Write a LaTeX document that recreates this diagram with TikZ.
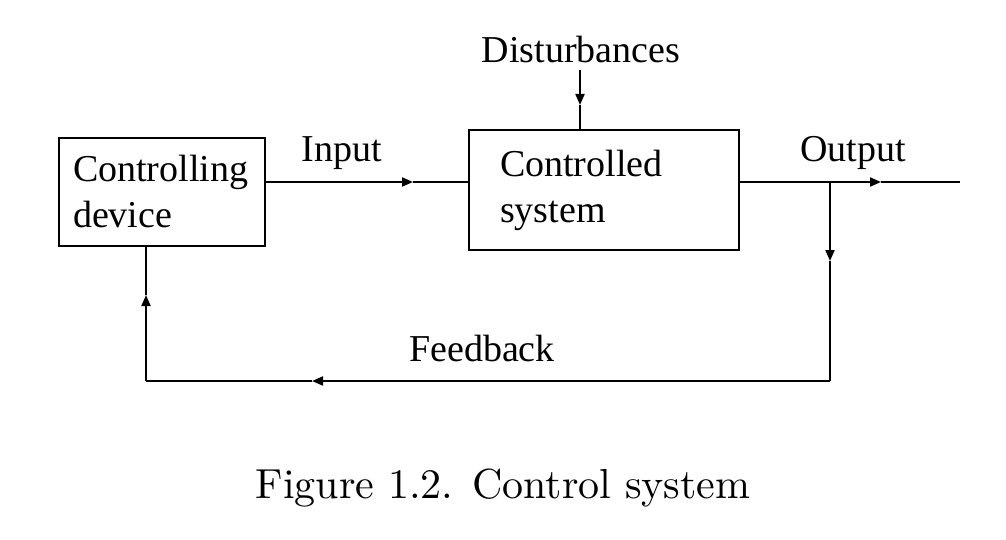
\documentclass[tikz,border=0pt]{standalone}
\usepackage{fontspec}
\setmainfont{Liberation Serif}
\newfontfamily\capfont[Extension=.otf]{lmroman10-regular}
\usetikzlibrary{arrows.meta}

\begin{document}
\begin{tikzpicture}[x=0.5pt, y=-0.5pt, line width=1pt,
    every node/.style = {font=\fontsize{19}{23}\selectfont},
    blk/.style = {shape=rectangle, draw, align=left, anchor=north west},
    lbl/.style = {anchor=base, inner sep=0pt},
    tip/.style = {-{Triangle[length=5.5pt,width=4.5pt]}}]
    \useasboundingbox (0,0) rectangle (1006,540);
    \node[blk, minimum width=103pt, minimum height=54pt,
      text width=89pt, inner sep=7pt] (cdev) at (58,137)
      {Controlling\\device};
    \node[blk, minimum width=126.5pt, minimum height=60pt,
      text width=104pt, inner xsep=15.5pt, inner ysep=7pt] (csys) at (468,129)
      {Controlled\\system};
    \node[lbl] (dist) at (581,63) {Disturbances};
    \node[lbl] (inp) at (342,162) {Input};
    \node[lbl] (outp) at (853,162) {Output};
    \node[lbl] (fdbk) at (482,361) {Feedback};
    \node[lbl, font=\capfont\fontsize{21}{25}\selectfont] (cap) at (503,498)
      {Figure 1.2. Control system};
    % forward path
    \coordinate (ia) at (413,182);
    \coordinate (br) at (830,182);
    \coordinate (oa) at (881,182);
    \coordinate (oend) at (960,182);
    \draw[tip] (cdev.east |- ia) -- (ia);
    \draw (ia) -- (csys.west |- ia);
    \draw (csys.east |- br) -- (br);
    \draw[tip] (br) -- (oa);
    \draw (oa) -- (oend);
    % disturbance
    \coordinate (dtop) at (580,70);
    \coordinate (da) at (580,105);
    \draw[tip] (dtop) -- (da);
    \draw (da) -- (csys.north -| da);
    % feedback path
    \coordinate (fa) at (830,261);
    \coordinate (fbr) at (830,381);
    \coordinate (fl) at (312,381);
    \coordinate (fbl) at (146,381);
    \coordinate (ua) at (146,295);
    \draw[tip] (br) -- (fa);
    \draw (fa) -- (fbr);
    \draw[tip] (fbr) -- (fl);
    \draw (fl) -- (fbl);
    \draw[tip] (fbl) -- (ua);
    \draw (ua) -- (cdev.south -| ua);
\end{tikzpicture}
\end{document}
